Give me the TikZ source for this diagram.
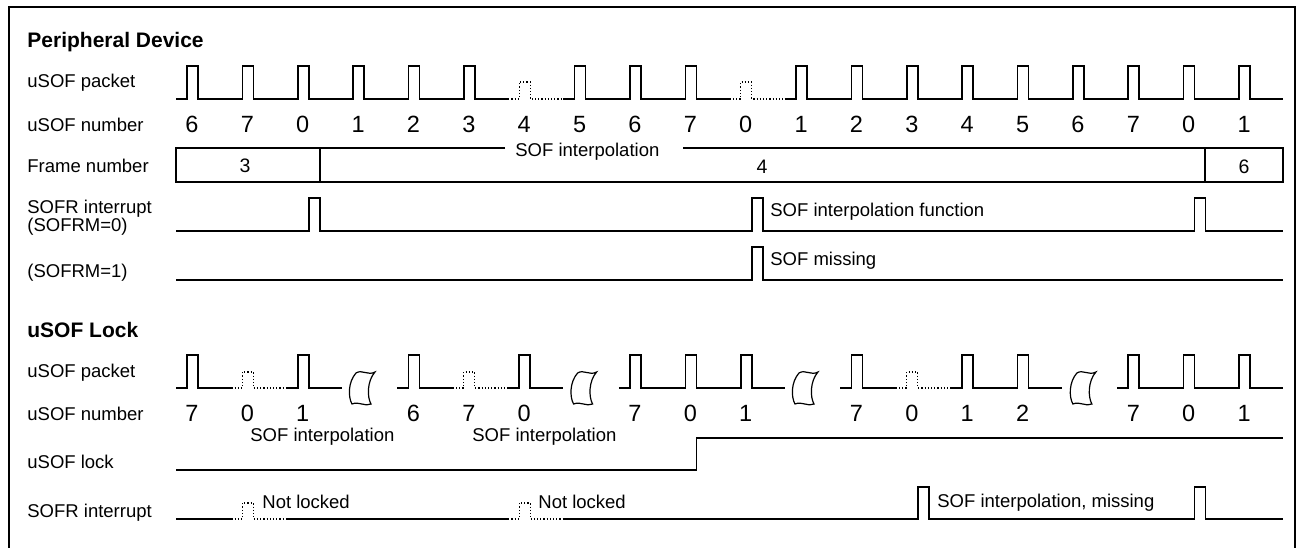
\documentclass[tikz,border=0pt]{standalone}
\usepackage{fontspec}
\setmainfont{Liberation Sans}
\tikzset{
  sig/.style={black, line width=0.8pt},
  gone/.style={black, line width=0.6pt, densely dotted},
  brk/.style={black, line width=0.6pt},
  lbl/.style={anchor=base west, inner sep=0pt, font=\fontsize{9.25}{11}\selectfont},
  num/.style={anchor=base, inner sep=0pt, font=\fontsize{11.75}{13}\selectfont},
  box/.style={anchor=base, inner sep=0pt, font=\fontsize{9.75}{11}\selectfont},
  head/.style={anchor=base west, inner sep=0pt, font=\bfseries\fontsize{10.5}{12}\selectfont}
}
\begin{document}
\begin{tikzpicture}[x=0.5pt,y=-0.5pt]
  \useasboundingbox (0,0) rectangle (1303,547);
  \draw[black, line width=1pt] (9,560) -- (9,7) -- (1295,7) -- (1295,560);

  \node[head] (pd) at (27,47) {Peripheral Device};
  \node[lbl] (pkt) at (27,87) {uSOF packet};
  \node[lbl] (cnt) at (27,131) {uSOF number};
  \node[lbl] (frm) at (27,172) {Frame number};
  \node[lbl] (sofr) at (27,213) {SOFR interrupt};
  \node[lbl] (sofrm0) at (27,231) {(SOFRM=0)};
  \node[lbl] (sofrm1) at (27,277) {(SOFRM=1)};
  \node[head] (lk) at (27,337) {uSOF Lock};
  \node[lbl] (lkpkt) at (27,377) {uSOF packet};
  \node[lbl] (lkcnt) at (27,420) {uSOF number};
  \node[lbl] (lock) at (27,468) {uSOF lock};
  \node[lbl] (lkint) at (27,517) {SOFR interrupt};

  \draw[sig] (176,99) \foreach \i in {0,...,5} {-- ({187+55.37*\i},99) -- ++(0,-33) -- ++(11,0) -- ++(0,33)} -- ({176+55.37*6},99);
  \draw[sig] ({231+55.37*6},99) \foreach \i in {7,8,9} {-- ({187+55.37*\i},99) -- ++(0,-33) -- ++(11,0) -- ++(0,33)} -- ({176+55.37*10},99);
  \draw[sig] ({231+55.37*10},99) \foreach \i in {11,...,19} {-- ({187+55.37*\i},99) -- ++(0,-33) -- ++(11,0) -- ++(0,33)} -- (1283,99);
  \foreach \i in {6,10}
    \draw[gone] ({176+55.37*\i},99) -- ++(11,0) -- ++(0,-17) -- ++(11,0) -- ++(0,17) -- ++(33,0);

  \foreach \i in {0,...,19} {
    \pgfmathtruncatemacro\n{mod(6+\i,8)}
    \node[num] (n\i) at ({192+55.37*\i},132) {\n};
  }

  \draw[sig] (505,148) -- (176,148) -- (176,182) -- (1283,182) -- (1283,148) -- (683,148);
  \draw[sig] (320,148) -- (320,182);
  \draw[sig] (1205,148) -- (1205,182);
  \node[lbl] (interp) at (515,156) {SOF interpolation};
  \node[box] (f3) at (245,172) {3};
  \node[box] (f4) at (762,173) {4};
  \node[box] (f6) at (1244,173) {6};

  \draw[sig] (176,231) \foreach \i in {2,10,18} {-- ({198+55.37*\i},231) -- ++(0,-33) -- ++(11,0) -- ++(0,33)} -- (1283,231);
  \node[lbl] (ifn) at (770,216) {SOF interpolation function};
  \draw[sig] (176,280) -- ({198+55.37*10},280) -- ++(0,-33) -- ++(11,0) -- ++(0,33) -- (1283,280);
  \node[lbl] (miss) at (770,265) {SOF missing};

  \draw[sig] (176,388) -- (187,388) -- ++(0,-33) -- ++(11,0) -- ++(0,33) -- ({176+55.37},388);
  \draw[sig] ({231+55.37},388) -- ({187+55.37*2},388) -- ++(0,-33) -- ++(11,0) -- ++(0,33) -- ({231+55.37*2},388);
  \draw[sig] ({176+55.37*4},388) -- ({187+55.37*4},388) -- ++(0,-33) -- ++(11,0) -- ++(0,33) -- ({176+55.37*5},388);
  \draw[sig] ({231+55.37*5},388) -- ({187+55.37*6},388) -- ++(0,-33) -- ++(11,0) -- ++(0,33) -- ({231+55.37*6},388);
  \draw[sig] ({176+55.37*8},388) \foreach \i in {8,9,10} {-- ({187+55.37*\i},388) -- ++(0,-33) -- ++(11,0) -- ++(0,33)} -- ({231+55.37*10},388);
  \draw[sig] ({176+55.37*12},388) -- ({187+55.37*12},388) -- ++(0,-33) -- ++(11,0) -- ++(0,33) -- ({176+55.37*13},388);
  \draw[sig] ({231+55.37*13},388) \foreach \i in {14,15} {-- ({187+55.37*\i},388) -- ++(0,-33) -- ++(11,0) -- ++(0,33)} -- ({231+55.37*15},388);
  \draw[sig] ({176+55.37*17},388) \foreach \i in {17,18,19} {-- ({187+55.37*\i},388) -- ++(0,-33) -- ++(11,0) -- ++(0,33)} -- (1283,388);
  \foreach \i in {1,5,13}
    \draw[gone] ({176+55.37*\i},388) -- ++(11,0) -- ++(0,-16) -- ++(11,0) -- ++(0,16) -- ++(33,0);
  \foreach \c in {362,583.6,805,1082.9}
    \draw[brk, shift={(\c,388)}] (-6,-15) .. controls (0,-19) and (6,-12) .. (13,-16)
      .. controls (5,-7) and (5,9) .. (9,16) .. controls (3,19) and (-3,13) .. (-10,16)
      .. controls (-14,9) and (-14,-6) .. cycle;

  \foreach \i/\v in {0/7,1/0,2/1,4/6,5/7,6/0,8/7,9/0,10/1,12/7,13/0,14/1,15/2,17/7,18/0,19/1}
    \node[num] (m\i) at ({192+55.37*\i},421) {\v};
  \node[lbl] (li1) at (250,441) {SOF interpolation};
  \node[lbl] (li2) at (472,441) {SOF interpolation};

  \draw[sig] (176,470) -- ({198+55.37*9},470) -- ++(0,-32) -- (1283,438);

  \draw[sig] (176,519) -- ({176+55.37},519);
  \draw[sig] ({231+55.37},519) -- ({176+55.37*6},519);
  \draw[sig] ({231+55.37*6},519) \foreach \i in {13,18} {-- ({198+55.37*\i},519) -- ++(0,-32) -- ++(11,0) -- ++(0,32)} -- (1283,519);
  \foreach \i in {1,6}
    \draw[gone] ({176+55.37*\i},519) -- ++(11,0) -- ++(0,-16) -- ++(11,0) -- ++(0,16) -- ++(33,0);
  \node[lbl] (nl1) at (262,508) {Not locked};
  \node[lbl] (nl2) at (538,508) {Not locked};
  \node[lbl] (ilm) at (937,507) {SOF interpolation, missing};
\end{tikzpicture}
\end{document}
